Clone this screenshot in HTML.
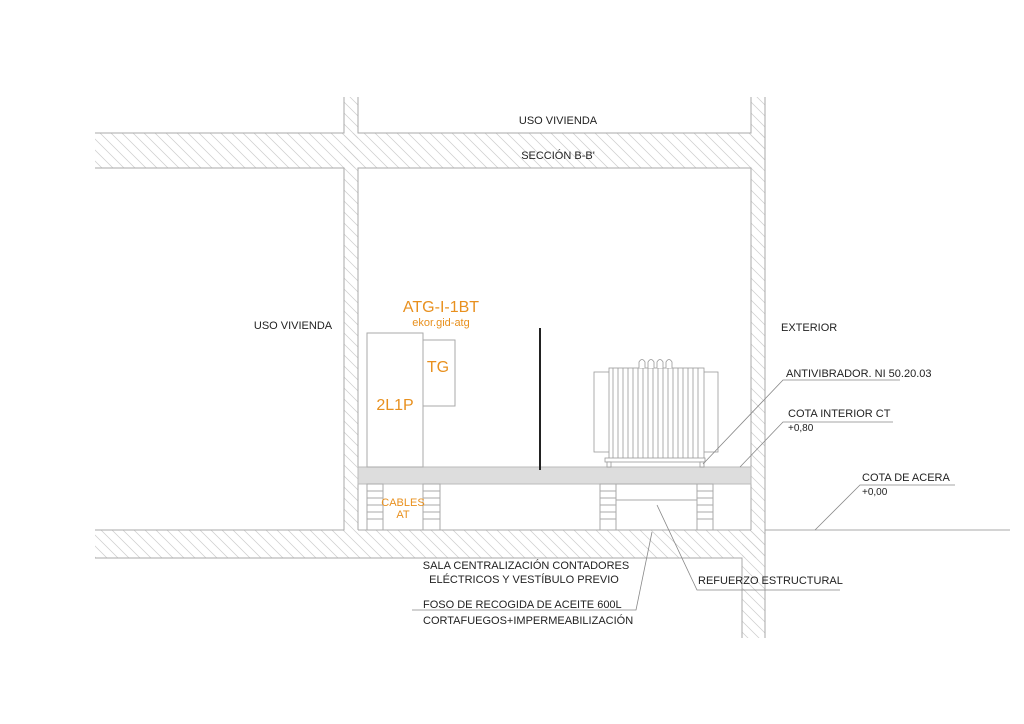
<!DOCTYPE html>
<html><head><meta charset="utf-8"><style>body{margin:0;background:#fff}svg{display:block}text{font-family:"Liberation Sans",sans-serif}</style></head><body>
<svg width="1024" height="724" viewBox="0 0 1024 724" xmlns="http://www.w3.org/2000/svg">
<defs><pattern id="h" width="11" height="11" patternUnits="userSpaceOnUse"><path d="M-2,-2 L13,13 M-2,9 L2,13 M9,-2 L13,2" stroke="#ccc" stroke-width="0.7"/></pattern></defs>
<g fill="url(#h)" stroke="none">
<rect x="344" y="97" width="14" height="433"/>
<rect x="751" y="97" width="14" height="433"/>
<rect x="95" y="133" width="670" height="35"/>
<rect x="95" y="530" width="670" height="28"/>
<rect x="742" y="530" width="23" height="108"/>
</g>
<g fill="none" stroke="#aaa" stroke-width="1">
<path d="M344,97V133H95M358,97V133H751V97M765,97V530H1010"/>
<path d="M95,168H344V530H95M358,530V168H751V530M95,558H742V638M765,530V638"/>
<path d="M358,530H751"/>
</g>
<rect x="358" y="467" width="393" height="17" fill="#ddd" stroke="#bbb"/>
<g stroke="#aaa" fill="#fff">
<rect x="367" y="484" width="16" height="46"/><rect x="423" y="484" width="17" height="46"/>
<rect x="600" y="484" width="16" height="46"/><rect x="697" y="484" width="16" height="46"/>
<rect x="616" y="484" width="81" height="46"/>
<line x1="616" y1="500" x2="697" y2="500"/>
<path d="M367,491H383M367,498H383M367,505H383M367,512H383M367,519H383M423,491H440M423,498H440M423,505H440M423,512H440M423,519H440M600,491H616M600,498H616M600,505H616M600,512H616M600,519H616M697,491H713M697,498H713M697,505H713M697,512H713M697,519H713"/>
<rect x="367" y="333" width="56" height="134"/>
<rect x="423" y="340" width="32" height="66"/>
</g>
<line x1="540" y1="328" x2="540" y2="470" stroke="#222" stroke-width="2"/>
<g stroke="#999" fill="#fff" stroke-width="0.8">
<rect x="594" y="372" width="124" height="80"/>
<rect x="609" y="368" width="95" height="92"/>
<path d="M639,368v-6q3,-5 6,0v6M648,368v-6q3,-5 6,0v6M657,368v-6q3,-5 6,0v6M666,368v-6q3,-5 6,0v6"/>
<path d="M613,368V460M618,368V460M623,368V460M628,368V460M633,368V460M638,368V460M643,368V460M648,368V460M653,368V460M658,368V460M663,368V460M668,368V460M673,368V460M678,368V460M683,368V460M688,368V460M693,368V460M698,368V460"/>
<rect x="605" y="458" width="100" height="4"/>
<rect x="607" y="462" width="4" height="5"/><rect x="700" y="462" width="4" height="5"/>
</g>
<g stroke="#888" fill="none" stroke-width="0.8">
<path d="M703,464L783,380H900"/>
<path d="M740,467L783,422H893"/>
<path d="M815,530L860,485H955"/>
<path d="M657,505L697,590H840"/>
<path d="M652,532L636,610H412"/>
</g>
<g font-size="11" fill="#222">
<text x="558" y="124" text-anchor="middle">USO VIVIENDA</text>
<text x="558" y="159" text-anchor="middle">SECCIÓN B-B'</text>
<text x="293" y="329" text-anchor="middle">USO VIVIENDA</text>
<text x="781" y="331">EXTERIOR</text>
<text x="786" y="377">ANTIVIBRADOR. NI 50.20.03</text>
<text x="788" y="417">COTA INTERIOR CT</text>
<text x="788" y="431" font-size="10">+0,80</text>
<text x="862" y="481">COTA DE ACERA</text>
<text x="862" y="495" font-size="10">+0,00</text>
<text x="526" y="569" text-anchor="middle">SALA CENTRALIZACIÓN CONTADORES</text>
<text x="524" y="583" text-anchor="middle">ELÉCTRICOS Y VESTÍBULO PREVIO</text>
<text x="423" y="608">FOSO DE RECOGIDA DE ACEITE 600L</text>
<text x="423" y="624">CORTAFUEGOS+IMPERMEABILIZACIÓN</text>
<text x="698" y="584">REFUERZO ESTRUCTURAL</text>
</g>
<g fill="#e8901e">
<text x="441" y="312" font-size="16" text-anchor="middle">ATG-I-1BT</text>
<text x="441" y="326" font-size="11" text-anchor="middle">ekor.gid-atg</text>
<text x="438" y="372" font-size="16" text-anchor="middle">TG</text>
<text x="395" y="410" font-size="16" text-anchor="middle">2L1P</text>
<text x="403" y="506" font-size="11" text-anchor="middle">CABLES</text>
<text x="403" y="518" font-size="11" text-anchor="middle">AT</text>
</g>
</svg>
</body></html>
